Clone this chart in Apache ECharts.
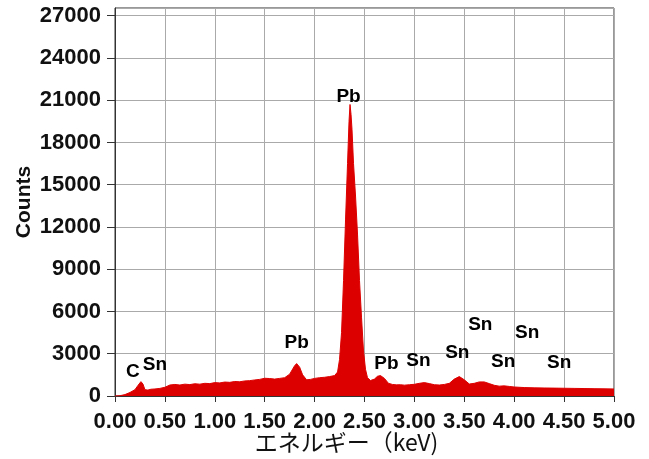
<!DOCTYPE html>
<html>
<head>
<meta charset="utf-8">
<script src="https://cdn.jsdelivr.net/npm/echarts@6/dist/echarts.min.js"></script>
<style>
  html, body { margin: 0; padding: 0; background: #fff; }
  #main { width: 649px; height: 459px; }
</style>
</head>
<body>
<div id="main"></div>
<script>
// spectrum (keV / counts)
var energy = [
  0.00, 0.05, 0.10, 0.15, 0.20, 0.23, 0.26, 0.28, 0.30, 0.33, 0.36, 0.40, 0.45, 0.50,
  0.55, 0.60, 0.65, 0.70, 0.75, 0.80, 0.85, 0.90, 0.95, 1.00, 1.05, 1.10, 1.15, 1.20,
  1.25, 1.30, 1.35, 1.40, 1.45, 1.50, 1.55, 1.60, 1.65, 1.70, 1.75, 1.80, 1.82, 1.85,
  1.88, 1.92, 1.96, 2.00, 2.05, 2.10, 2.15, 2.20, 2.23, 2.25, 2.27, 2.29, 2.31, 2.33,
  2.345, 2.355, 2.365, 2.375, 2.39, 2.41, 2.43, 2.45, 2.47, 2.49, 2.51, 2.53, 2.56,
  2.60, 2.63, 2.66, 2.70, 2.74, 2.78, 2.82, 2.86, 2.90, 2.95, 3.00, 3.05, 3.10, 3.15,
  3.20, 3.25, 3.30, 3.35, 3.40, 3.45, 3.50, 3.55, 3.60, 3.65, 3.70, 3.75, 3.80, 3.85,
  3.90, 3.95, 4.00, 4.10, 4.20, 4.30, 4.40, 4.50, 4.60, 4.70, 4.80, 4.90, 5.00
];
var counts = [
  0, 20, 100, 250, 450, 750, 1020, 850, 450, 420, 480, 500, 540, 620,
  780, 820, 780, 840, 810, 870, 840, 900, 880, 950, 930, 990, 970, 1030,
  1010, 1070, 1090, 1140, 1180, 1260, 1240, 1200, 1250, 1300, 1550, 2150, 2300, 2050,
  1500, 1150, 1180, 1250, 1300, 1330, 1380, 1450, 1700, 2600, 4500, 8200, 12500, 16500,
  19500, 20700, 20000, 18900, 16500, 14200, 11500, 8200, 5600, 3200, 1900, 1300, 1100,
  1200, 1400, 1450, 1250, 900, 820, 790, 800, 770, 800, 830, 900, 950, 880,
  800, 780, 820, 900, 1200, 1380, 1150, 850, 900, 1000, 1000, 880, 760, 700,
  720, 680, 640, 600, 580, 570, 560, 550, 540, 530, 520, 510, 500
];

// peak labels
var peakNames  = ['C', 'Sn', 'Pb', 'Pb', 'Pb', 'Sn', 'Sn', 'Sn', 'Sn', 'Sn', 'Sn'];
var peakEnergy = [0.18, 0.40, 1.82, 2.34, 2.72, 3.04, 3.43, 3.66, 3.89, 4.13, 4.45];
var peakCounts = [1700, 2200, 3770, 21260, 2280, 2490, 3060, 5050, 2420, 4480, 2350];

var xTicks = [0, 0.5, 1, 1.5, 2, 2.5, 3, 3.5, 4, 4.5, 5];

var myChart = echarts.init(document.getElementById('main'), null, { renderer: 'canvas' });

var spectrum = energy.map(function (e, i) { return [e, counts[i]]; });
var peaks = peakEnergy.map(function (e, i) { return { value: [e, peakCounts[i]], name: peakNames[i] }; });

var option = {
  backgroundColor: '#fff',
  animation: false,
  grid: {
    left: 115, right: 35, top: 8, bottom: 63,
    outerBoundsMode: 'none',
    containLabel: false,
    show: true, borderColor: '#333', borderWidth: 1, backgroundColor: 'transparent'
  },
  xAxis: {
    type: 'value',
    min: 0, max: 5, interval: 0.5,
    name: 'エネルギー（keV)',
    nameLocation: 'middle',
    nameGap: 35,
    nameMoveOverlap: false,
    nameTextStyle: {
      fontFamily: '"Noto Sans CJK JP", sans-serif',
      fontSize: 23, color: '#111',
      padding: [0, 36, 0, 0]
    },
    axisLine: { lineStyle: { color: '#333', width: 1 } },
    axisTick: { show: true, length: 6, lineStyle: { color: '#333' } },
    axisLabel: {
      margin: 15,
      fontFamily: '"Liberation Sans", Arial, sans-serif',
      fontWeight: 'bold', fontSize: 22, color: '#111',
      formatter: function (v) { return xTicks.indexOf(v) >= 0 ? v.toFixed(2) : ''; }
    },
    splitLine: { show: true, lineStyle: { color: '#aaa', width: 1 } }
  },
  yAxis: {
    type: 'value',
    min: 0, max: 27550, interval: 3000,
    name: 'Counts',
    nameLocation: 'middle',
    nameGap: 80,
    nameMoveOverlap: false,
    nameTextStyle: {
      fontFamily: '"Liberation Sans", Arial, sans-serif',
      fontWeight: 'bold', fontSize: 21, color: '#111'
    },
    axisLine: { show: true, lineStyle: { color: '#333', width: 1 } },
    axisTick: { show: true, length: 8, lineStyle: { color: '#333' } },
    axisLabel: {
      margin: 14,
      showMaxLabel: false,
      fontFamily: '"Liberation Sans", Arial, sans-serif',
      fontWeight: 'bold', fontSize: 22, color: '#111',
      formatter: function (v) { return v % 3000 === 0 ? String(v) : ''; }
    },
    splitLine: { show: true, lineStyle: { color: '#aaa', width: 1 } }
  },
  series: [
    {
      name: 'spectrum',
      type: 'line',
      data: spectrum,
      showSymbol: false,
      smooth: false,
      color: '#dd0000',
      lineStyle: { width: 1, color: '#dd0000' },
      areaStyle: { color: '#dd0000', opacity: 1 },
      z: 2
    },
    {
      name: 'peaks',
      type: 'scatter',
      data: peaks,
      symbolSize: 0,
      silent: true,
      itemStyle: { opacity: 1 },
      label: {
        show: true,
        position: 'inside',
        formatter: function (p) { return p.name; },
        fontFamily: '"Liberation Sans", Arial, sans-serif',
        fontWeight: 'bold', fontSize: 19, color: '#000'
      },
      z: 3
    }
  ]
};

myChart.setOption(option);
</script>
</body>
</html>
